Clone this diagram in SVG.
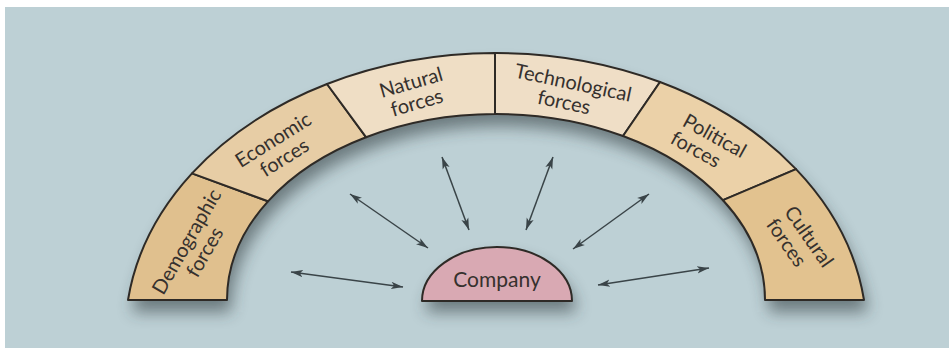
<svg xmlns="http://www.w3.org/2000/svg" width="949" height="348" viewBox="0 0 949 348">
<defs>
<style>
.seg{stroke:#2e2a26;stroke-width:2;stroke-linejoin:round}
.lbl{font-family:Lato,"Open Sans","Liberation Sans",sans-serif;font-size:20px;fill:#36312e;text-anchor:middle}
.arr{stroke:#3a4448;stroke-width:1.5;fill:none;marker-start:url(#ah);marker-end:url(#ah)}
</style>
<marker id="ah" markerUnits="userSpaceOnUse" markerWidth="13" markerHeight="9" refX="12" refY="4.5" orient="auto-start-reverse">
<path d="M0,0.8 L12,4.5 L0,8.2 L3,4.5 Z" fill="#3a4448"/>
</marker>
<filter id="sh" x="-20%" y="-20%" width="140%" height="160%">
<feGaussianBlur stdDeviation="8"/>
</filter>
</defs>
<rect x="0" y="0" width="949" height="348" fill="#ffffff"/>
<rect x="5" y="7" width="944" height="341" fill="#bdd0d5"/>
<g id="shadows" opacity="0.55" filter="url(#sh)">
<path d="M132,312 A371,282 0 0 1 868,312 L769,312 A269,186 0 0 0 231,312 Z" fill="#2a3438"/>
<path d="M426,312 A75,54 0 0 1 576,312 Z" fill="#2a3438"/>
</g>
<g id="demographic">
<path class="seg" fill="#e0c08e" d="M128,300 A371,282 0 0 1 192,173.4 L268,201.3 A269,186 0 0 0 227,300 Z"/>
<text class="lbl" transform="translate(196,247) rotate(-60)"><tspan x="0" y="-4">Demographic</tspan><tspan x="0" y="17">forces</tspan></text>
</g>
<g id="economic">
<path class="seg" fill="#e7cda5" d="M192,173.4 A371,282 0 0 1 327,84 L366,137.2 A269,186 0 0 0 268,201.3 Z"/>
<text class="lbl" transform="translate(279,149) rotate(-32)"><tspan x="0" y="-4">Economic</tspan><tspan x="0" y="17">forces</tspan></text>
</g>
<g id="natural">
<path class="seg" fill="#efdec5" d="M327,84 A371,282 0 0 1 495,53 L495,114 A269,186 0 0 0 366,137.2 Z"/>
<text class="lbl" transform="translate(414,93) rotate(-16)"><tspan x="0" y="-4">Natural</tspan><tspan x="0" y="17">forces</tspan></text>
</g>
<g id="technological">
<path class="seg" fill="#efdec6" d="M495,53 A371,282 0 0 1 660,82 L623,136 A269,186 0 0 0 495,114 Z"/>
<text class="lbl" transform="translate(569,93) rotate(12)"><tspan x="2" y="-4">Technological</tspan><tspan x="-3" y="17">forces</tspan></text>
</g>
<g id="political">
<path class="seg" fill="#ebd1a8" d="M660,82 A371,282 0 0 1 796,169.1 L723,200.2 A269,186 0 0 0 623,136 Z"/>
<text class="lbl" transform="translate(705,143) rotate(29)"><tspan x="5" y="-4">Political</tspan><tspan x="-5" y="17">forces</tspan></text>
</g>
<g id="cultural">
<path class="seg" fill="#e2c28f" d="M796,169.1 A371,282 0 0 1 864,300 L765,300 A269,186 0 0 0 723,200.2 Z"/>
<text class="lbl" transform="translate(797,240) rotate(55)"><tspan x="4" y="-5">Cultural</tspan><tspan x="-4" y="17">forces</tspan></text>
</g>
<g id="company">
<path class="seg" fill="#d9a9b3" d="M422,301 A75,54 0 0 1 572,301 Z"/>
<text class="lbl" x="497" y="287" style="font-size:21px">Company</text>
</g>
<g id="connectors">
<line class="arr" x1="291" y1="272" x2="403" y2="287"/>
<line class="arr" x1="350" y1="194" x2="428" y2="248"/>
<line class="arr" x1="442" y1="157" x2="469" y2="230"/>
<line class="arr" x1="553" y1="157" x2="526" y2="230"/>
<line class="arr" x1="649" y1="194" x2="573" y2="249"/>
<line class="arr" x1="709" y1="268" x2="598" y2="285"/>
</g>
</svg>
